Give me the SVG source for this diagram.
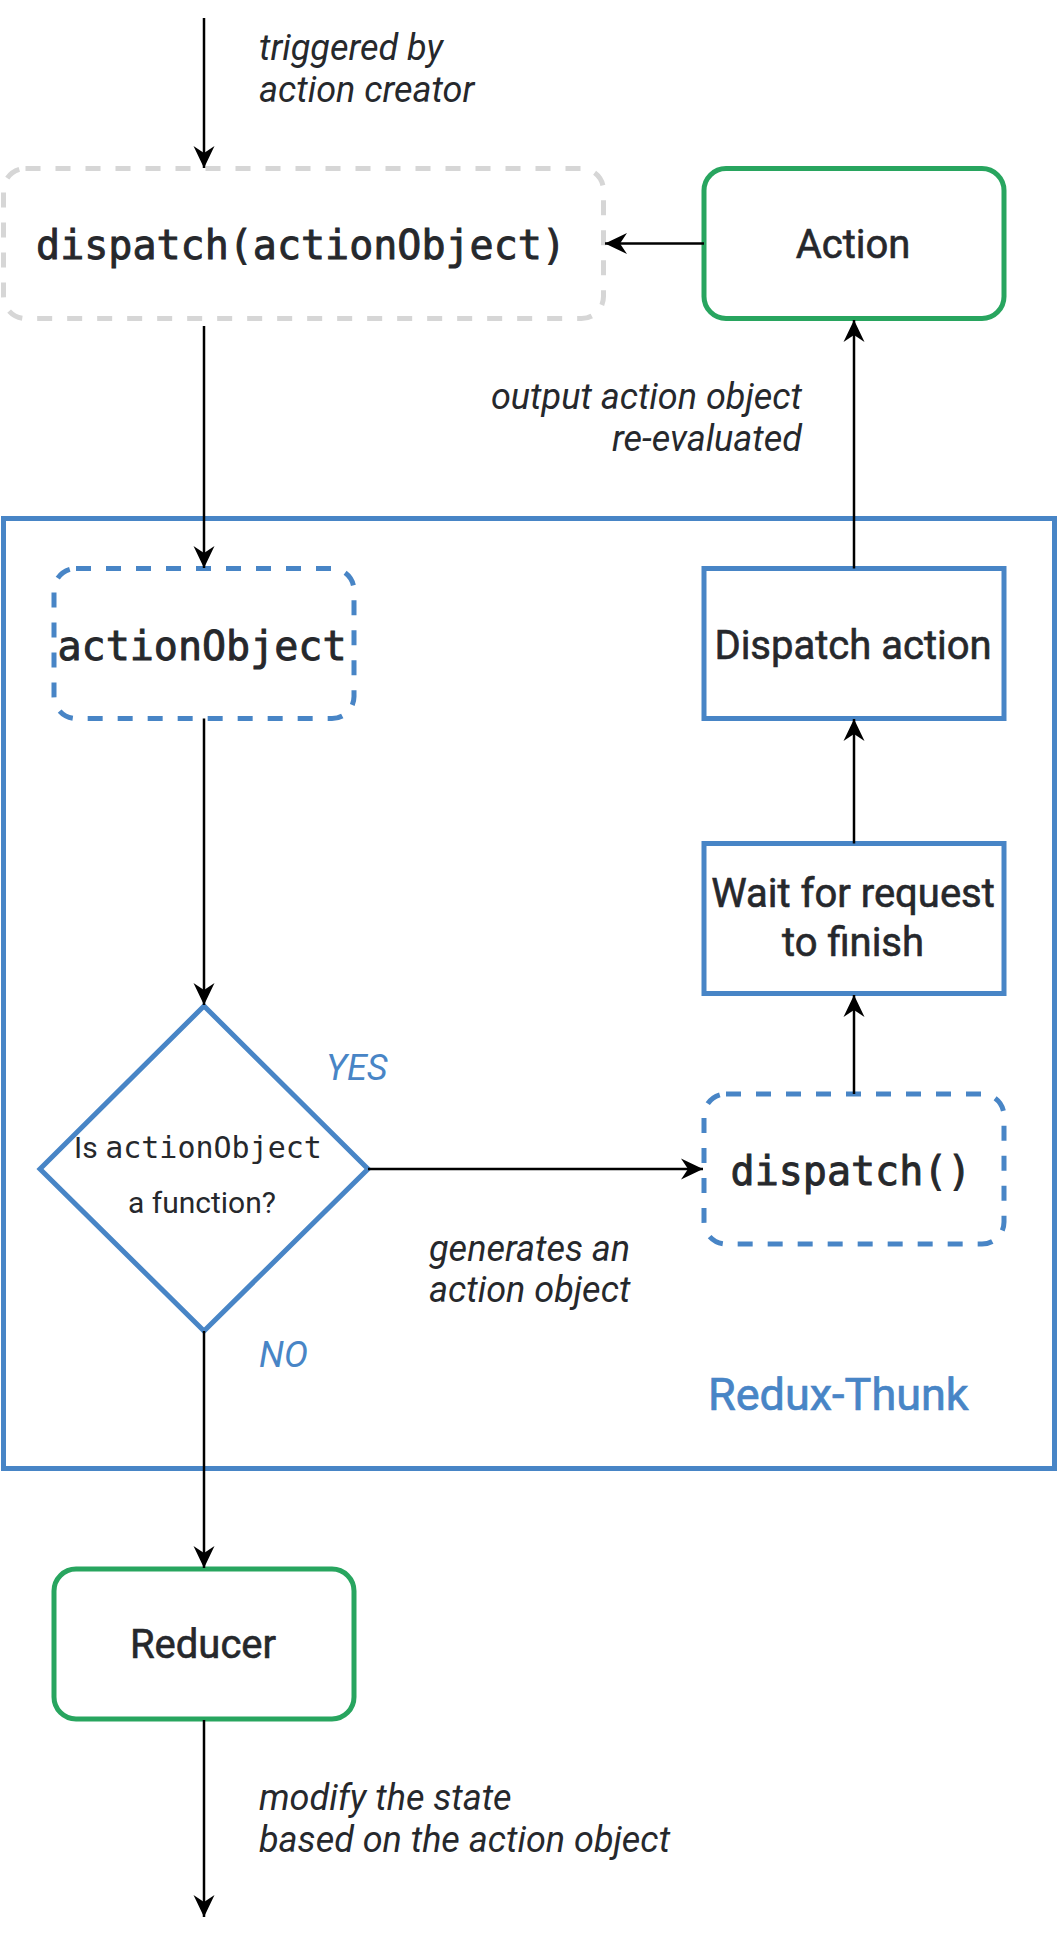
<svg xmlns="http://www.w3.org/2000/svg" width="1058" height="1943" viewBox="0 0 1058 1943">
  <style>
    .lbl { font-family: Roboto, "Liberation Sans", sans-serif; fill: #26282c; }
    .med { stroke: #26282c; stroke-width: 0.6; }
    .it { font-family: Roboto, "Liberation Sans", sans-serif; font-style: italic; font-size: 36px; fill: #26282c; }
    .itb { font-family: Roboto, "Liberation Sans", sans-serif; font-style: italic; font-size: 36px; fill: #4885c6; }
    .mono { font-family: "DejaVu Sans Mono", "Liberation Mono", monospace; fill: #26282c; }
    .monob { stroke: #26282c; stroke-width: 0.9; }
    .node40 { font-size: 40px; }
    .gray { fill: #ffffff; stroke: #d6d6d6; stroke-width: 5; stroke-dasharray: 15 15; }
    .green { fill: #ffffff; stroke: #28a55f; stroke-width: 5; }
    .blue { fill: #ffffff; stroke: #4885c6; stroke-width: 5; }
    .bluedash { fill: #ffffff; stroke: #4885c6; stroke-width: 5; stroke-dasharray: 15 15; }
    .edge { fill: none; stroke: #000000; stroke-width: 2.5; marker-end: url(#arrow); }
  </style>
  <defs>
    <marker id="arrow" markerUnits="userSpaceOnUse" viewBox="-24 -12 26 24" refX="0" refY="0" markerWidth="26" markerHeight="24" orient="auto">
      <path d="M0,0 L-22,-10.5 L-15,0 L-22,10.5 Z" fill="#000000"/>
    </marker>
  </defs>

  <g id="redux-thunk">
    <rect x="3.5" y="518.5" width="1051" height="950" fill="#ffffff" stroke="#4885c6" stroke-width="5"/>
    <text x="708" y="1410" class="lbl" font-size="45" style="fill:#4885c6;stroke:#4885c6;stroke-width:0.7">Redux-Thunk</text>
  </g>

  <g id="dispatch-actionObject">
    <rect class="gray" x="3.5" y="168.5" width="600" height="150" rx="22" ry="22"/>
    <text x="301" y="259" class="mono monob node40" text-anchor="middle">dispatch(actionObject)</text>
  </g>

  <g id="action">
    <rect class="green" x="704" y="168.5" width="300" height="150" rx="22" ry="22"/>
    <text x="853" y="258" class="lbl med node40" text-anchor="middle">Action</text>
  </g>

  <g id="actionObject">
    <rect class="bluedash" x="54" y="568.5" width="300" height="150" rx="22" ry="22"/>
    <text x="202" y="660" class="mono monob node40" text-anchor="middle">actionObject</text>
  </g>

  <g id="dispatch-action">
    <rect class="blue" x="704" y="568.5" width="300" height="150"/>
    <text x="853" y="659" class="lbl med node40" text-anchor="middle">Dispatch action</text>
  </g>

  <g id="wait">
    <rect class="blue" x="704" y="843.5" width="300" height="150"/>
    <text x="853" y="907" class="lbl med node40" text-anchor="middle">Wait for request</text>
    <text x="853" y="956" class="lbl med node40" text-anchor="middle">to finish</text>
  </g>

  <g id="dispatch-empty">
    <rect class="bluedash" x="704" y="1094" width="300" height="150" rx="22" ry="22"/>
    <text x="851" y="1185" class="mono monob node40" text-anchor="middle">dispatch()</text>
  </g>

  <g id="decision">
    <polygon class="blue" points="204,1006 368,1169 204,1331 40,1169"/>
    <text x="198" y="1158" class="lbl" font-size="30" text-anchor="middle">Is <tspan class="mono">actionObject</tspan></text>
    <text x="202" y="1213" class="lbl" font-size="30" text-anchor="middle">a function?</text>
  </g>

  <g id="reducer">
    <rect class="green" x="54" y="1569" width="300" height="150" rx="22" ry="22"/>
    <text x="203" y="1658" class="lbl med node40" text-anchor="middle">Reducer</text>
  </g>

  <g id="connectors">
    <path class="edge" d="M204,18 L204,168"/>
    <path class="edge" d="M704,243.5 L605,243.5"/>
    <path class="edge" d="M204,326 L204,568"/>
    <path class="edge" d="M204,718.5 L204,1005"/>
    <path class="edge" d="M368,1169 L703,1169"/>
    <path class="edge" d="M854,1094 L854,995"/>
    <path class="edge" d="M854,843.5 L854,719"/>
    <path class="edge" d="M854,568.5 L854,320"/>
    <path class="edge" d="M204,1331 L204,1568"/>
    <path class="edge" d="M204,1720 L204,1917"/>
  </g>

  <g id="labels">
    <text x="259" y="60" class="it">triggered by</text>
    <text x="259" y="102" class="it">action creator</text>
    <text x="802" y="409" class="it" text-anchor="end">output action object</text>
    <text x="802" y="451" class="it" text-anchor="end">re-evaluated</text>
    <text x="326" y="1080" class="itb">YES</text>
    <text x="429" y="1261" class="it">generates an</text>
    <text x="429" y="1302" class="it">action object</text>
    <text x="259" y="1367" class="itb">NO</text>
    <text x="259" y="1810" class="it">modify the state</text>
    <text x="259" y="1852" class="it">based on the action object</text>
  </g>
</svg>
